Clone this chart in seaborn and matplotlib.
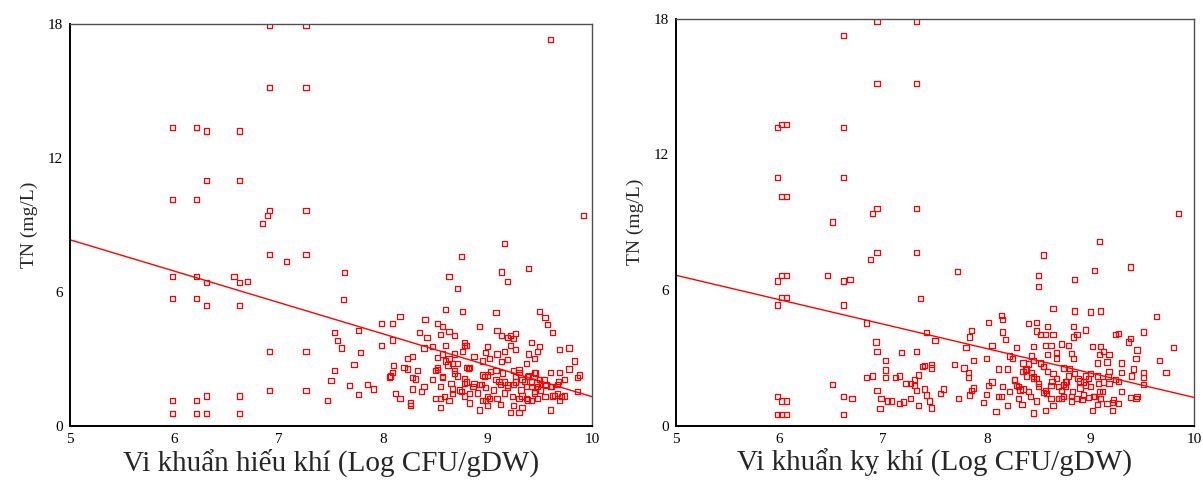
"""Scatter of TN vs. bacterial counts (aerobic / anaerobic) with linear trend."""

import matplotlib
import matplotlib.pyplot as plt
import seaborn as sns

sns.set_theme(style="white")
plt.rcParams["font.family"] = ["Liberation Serif", "DejaVu Serif"]

# ── Data ──────────────────────────────────────────────────────────────

# left panel: aerobic bacteria (Log CFU/gDW) vs TN (mg/L)
aer_log = (
    [5.98] * 6 + [6.21] * 6 + [6.31] * 6 + [6.62] * 6
    + [6.57, 6.70, 6.84, 6.89, 7.07]
    + [6.91] * 6 + [7.26] * 6
    + [7.47, 7.50, 7.53, 7.53, 7.56, 7.60, 7.62, 7.63, 7.68, 7.72]
    + [7.76, 7.76, 7.78, 7.85, 7.91, 7.98, 7.98, 8.06, 8.07, 8.09]
    + [8.09, 8.09, 8.10, 8.12, 8.16, 8.16, 8.20, 8.23, 8.23, 8.26]
    + [8.26, 8.28, 8.28, 8.28, 8.31, 8.33, 8.35, 8.37, 8.39, 8.39]
    + [8.40, 8.42, 8.47, 8.47, 8.50, 8.50, 8.52, 8.52, 8.52, 8.55]
    + [8.55, 8.55, 8.55, 8.57, 8.57, 8.57, 8.60, 8.60, 8.60, 8.63]
    + [8.63, 8.63, 8.63, 8.66, 8.66, 8.66, 8.68, 8.68, 8.68, 8.71]
    + [8.71, 8.71, 8.75, 8.75, 8.76, 8.76, 8.78, 8.78, 8.78, 8.78]
    + [8.80, 8.80, 8.80, 8.83, 8.83, 8.83, 8.87, 8.87, 8.92, 8.92]
    + [8.92, 8.95, 8.95, 8.95, 8.98, 8.98, 8.98, 9.00, 9.00, 9.00]
    + [9.02, 9.02, 9.08, 9.08, 9.08, 9.09, 9.09, 9.09, 9.12, 9.12]
    + [9.13, 9.13, 9.13, 9.16, 9.16, 9.16, 9.19, 9.19, 9.19, 9.19]
    + [9.22, 9.22, 9.22, 9.25, 9.25, 9.25, 9.25, 9.27, 9.27, 9.27]
    + [9.30, 9.30, 9.30, 9.33, 9.33, 9.33, 9.37, 9.37, 9.37, 9.39]
    + [9.39, 9.39, 9.42, 9.42, 9.42, 9.45, 9.45, 9.45, 9.48, 9.48]
    + [9.48, 9.50, 9.50, 9.50, 9.55, 9.55, 9.55, 9.57, 9.60, 9.60]
    + [9.60, 9.60, 9.62, 9.62, 9.67, 9.67, 9.69, 9.69, 9.69, 9.74]
    + [9.74, 9.78, 9.78, 9.83, 9.86, 9.86, 9.88, 9.92]
    + [8.94, 9.00, 9.06, 9.11, 9.16, 9.19, 9.24, 9.27, 9.32, 9.35]
    + [9.38, 9.42, 9.45, 9.47, 9.51, 9.56, 9.61, 9.64, 9.68, 9.71]
    + [8.90, 8.97, 9.03, 9.14, 9.30, 9.38, 9.46, 9.54]
    + [8.52, 8.57, 8.62, 8.65, 8.68, 8.73, 8.78, 8.82, 8.86, 8.59]
)
aer_tn = (
    [13.35, 10.15, 6.68, 5.70, 1.12, 0.54] * 2
    + [13.20, 10.99, 6.41, 5.37, 1.33, 0.54] * 2
    + [6.68, 6.47, 9.06, 9.42, 7.35]
    + [17.92, 15.14, 9.63, 7.68, 3.32, 1.58] * 2
    + [1.12, 2.02, 4.17, 2.48, 3.80, 3.48, 5.64, 6.85, 1.79, 2.74]
    + [4.28, 1.38, 3.27, 1.85, 1.64, 4.59, 3.59, 2.18, 2.23, 4.59]
    + [3.84, 2.38, 2.69, 1.43, 4.90, 1.23, 2.59, 3.00, 2.54, 1.02]
    + [0.91, 3.11, 2.17, 1.64, 2.09, 2.48, 4.17, 1.54, 3.48, 1.75]
    + [4.74, 3.95, 3.53, 2.06, 1.23, 2.48, 4.59, 2.59, 3.06, 4.10]
    + [1.23, 1.75, 0.81, 4.44, 2.17, 3.21, 5.22, 3.59, 2.90, 6.68]
    + [4.23, 3.00, 1.12, 2.80, 1.64, 1.43, 4.05, 3.21, 2.48, 6.16]
    + [2.80, 2.23, 7.58, 1.54, 5.11, 3.32, 3.74, 3.59, 1.90, 1.33]
    + [3.59, 2.59, 1.96, 2.59, 1.02, 1.43, 3.11, 1.90, 4.44, 1.85]
    + [0.70, 2.90, 2.27, 1.12, 3.27, 1.12, 1.70, 3.53, 2.27, 0.91]
    + [3.00, 1.23, 5.07, 2.48, 2.06, 4.28, 3.21, 1.23, 1.85, 0.96]
    + [6.89, 4.05, 2.86, 8.15, 3.32, 1.96, 6.47, 3.95, 2.96, 1.70]
    + [4.05, 0.60, 3.60, 3.89, 2.48, 0.91, 1.85, 4.13, 3.42, 1.96]
    + [1.23, 0.60, 2.38, 2.06, 0.81, 1.33, 2.80, 1.75, 1.23, 7.06]
    + [3.21, 2.23, 3.74, 1.96, 1.12, 3.00, 2.38, 1.54, 3.32, 1.75]
    + [1.23, 5.11, 3.53, 2.06, 4.86, 1.85, 1.30, 4.54, 17.29, 2.38]
    + [0.70, 1.75, 4.17, 1.33, 1.85, 1.43, 3.42, 2.38, 1.12, 2.06]
    + [1.33, 3.48, 2.54, 2.90, 2.17, 1.54, 2.27, 9.42]
    + [1.83, 1.30, 1.60, 1.97, 1.46, 1.82, 1.30, 2.20, 1.60, 1.97]
    + [1.15, 1.75, 1.46, 1.91, 1.60, 1.82, 1.75, 1.37, 1.97, 1.30]
    + [1.46, 2.20, 2.42, 2.36, 2.50, 2.20, 2.36, 2.05]
    + [2.50, 2.20, 2.72, 1.90, 2.35, 1.60, 2.12, 2.57, 1.75, 1.30]
)

# right panel: anaerobic bacteria (Log CFU/gDW) vs TN (mg/L)
ana_log = (
    [5.98] * 6 + [6.02] * 6 + [6.07] * 6 + [6.62] * 7
    + [6.46, 6.51, 6.51, 6.68, 6.70, 6.84, 6.84, 6.88, 6.90, 6.90]
    + [6.94] * 6 + [7.32] * 6
    + [6.93, 6.97, 6.98, 7.02, 7.02, 7.02, 7.04, 7.08, 7.12, 7.16]
    + [7.16, 7.18, 7.20, 7.22, 7.26, 7.26, 7.30, 7.30, 7.34, 7.34]
    + [7.36, 7.38, 7.40, 7.40, 7.42, 7.42, 7.45, 7.47, 7.47, 7.47]
    + [7.50, 7.55, 7.58, 7.69, 7.72, 7.73, 7.78, 7.80, 7.82, 7.82]
    + [7.83, 7.83, 7.85, 7.85, 7.87, 7.87, 7.97, 8.00, 8.00, 8.02]
    + [8.02, 8.05, 8.05, 8.09, 8.11, 8.11, 8.14, 8.14, 8.15, 8.15]
    + [8.15, 8.18, 8.20, 8.20, 8.22, 8.22, 8.25, 8.27, 8.29, 8.29]
    + [8.31, 8.31, 8.35, 8.35, 8.35, 8.38, 8.38, 8.40, 8.40, 8.40]
    + [8.43, 8.43, 8.45, 8.45, 8.45, 8.45, 8.48, 8.48, 8.48, 8.48]
    + [8.50, 8.50, 8.50, 8.52, 8.52, 8.55, 8.55, 8.55, 8.57, 8.57]
    + [8.57, 8.57, 8.59, 8.59, 8.59, 8.62, 8.62, 8.62, 8.64, 8.64]
    + [8.64, 8.67, 8.67, 8.67, 8.69, 8.72, 8.72, 8.72, 8.74, 8.74]
    + [8.76, 8.76, 8.79, 8.79, 8.82, 8.82, 8.82, 8.84, 8.84, 8.84]
    + [8.85, 8.85, 8.85, 8.87, 8.87, 8.90, 8.90, 8.93, 8.93, 8.95]
    + [8.95, 8.98, 8.98, 9.00, 9.00, 9.02, 9.02, 9.04, 9.04, 9.07]
    + [9.07, 9.07, 9.09, 9.09, 9.09, 9.10, 9.10, 9.10, 9.13, 9.13]
    + [9.16, 9.16, 9.18, 9.18, 9.18, 9.21, 9.21, 9.24, 9.24, 9.27]
    + [9.27, 9.30, 9.30, 9.30, 9.37, 9.39, 9.39, 9.39, 9.40, 9.42]
    + [9.44, 9.44, 9.45, 9.45, 9.51, 9.51, 9.51, 9.51, 9.64, 9.67]
    + [9.73, 9.80, 9.85]
    + [8.64, 8.69, 8.74, 8.77, 8.80, 8.83, 8.88, 8.92, 8.95, 9.00]
    + [9.03, 9.08, 9.12, 9.17, 9.22, 9.27]
    + [8.27, 8.32, 8.37, 8.42, 8.45, 8.50, 8.55, 8.58, 8.63, 8.34]
)
ana_tn = (
    [13.17, 10.96, 6.40, 5.34, 1.30, 0.50]
    + [13.33, 10.13, 6.65, 5.66, 1.09, 0.50] * 2
    + [17.27, 13.17, 10.96, 6.40, 5.34, 1.30, 0.50]
    + [6.65, 9.01, 1.83, 6.45, 1.19, 4.54, 2.14, 7.35, 2.20, 9.38]
    + [17.89, 15.12, 9.59, 7.65, 3.29, 1.56] * 2
    + [3.70, 0.77, 1.19, 2.88, 2.46, 2.14, 1.09, 1.09, 2.14, 2.20]
    + [0.99, 3.24, 1.05, 1.87, 1.19, 1.87, 2.04, 1.77, 2.24, 0.88]
    + [5.62, 2.61, 2.65, 1.62, 4.11, 1.36, 1.09, 0.78, 2.71, 2.55]
    + [3.76, 1.42, 1.62, 2.71, 6.81, 1.19, 2.55, 3.45, 2.35, 2.14]
    + [3.92, 1.36, 4.22, 1.56, 2.88, 1.67, 1.03, 2.98, 1.39, 4.56]
    + [1.77, 3.55, 1.93, 0.62, 2.51, 1.30, 4.87, 1.30, 4.71, 4.14]
    + [1.73, 3.81, 2.51, 0.88, 3.08, 1.50, 2.98, 2.04, 3.45, 1.77]
    + [1.19, 1.73, 2.77, 2.40, 1.62, 2.51, 2.20, 4.53, 2.73, 1.50]
    + [3.08, 2.35, 3.50, 2.88, 2.09, 0.56, 4.56, 4.19, 2.09, 1.09]
    + [6.65, 6.14, 1.87, 4.03, 2.77, 7.55, 2.61, 1.46, 4.03, 3.55]
    + [1.56, 0.66, 4.40, 3.14, 2.40, 3.55, 1.77, 1.19, 5.18, 4.03]
    + [0.88, 3.24, 2.98, 2.09, 1.19, 3.61, 1.56, 1.19, 2.55, 1.83]
    + [1.93, 1.73, 3.55, 2.20, 3.19, 1.30, 1.09, 4.40, 3.92, 2.98]
    + [6.45, 5.07, 2.30, 1.19, 4.03, 1.98, 1.67, 1.93, 1.36, 4.23]
    + [2.20, 2.09, 1.25, 5.03, 1.73, 3.50, 0.66, 6.87, 1.30, 2.77]
    + [2.20, 0.93, 8.13, 3.14, 1.50, 5.07, 3.50, 1.19, 3.29, 1.93]
    + [2.82, 0.99, 3.14, 2.40, 1.87, 0.66, 1.03, 4.03, 2.04, 4.07]
    + [0.99, 2.77, 1.52, 2.35, 3.70, 7.02, 3.86, 1.24, 2.20, 2.51]
    + [2.98, 1.19, 3.35, 1.30, 4.14, 2.35, 1.83, 2.14, 4.82, 2.88]
    + [2.35, 3.45, 9.38]
    + [2.32, 1.73, 1.28, 1.95, 2.54, 1.50, 2.10, 1.14, 1.80, 2.32]
    + [1.28, 1.88, 1.50, 2.17, 1.14, 1.95]
    + [2.02, 1.58, 2.46, 1.28, 2.17, 1.73, 2.61, 1.43, 1.95, 0.92]
)

# linear trend lines, end points read at x = 5 and x = 10
trend_x = [5, 10]
aer_trend = [8.33, 1.30]
ana_trend = [6.65, 1.25]

x_ticks = [5, 6, 7, 8, 9, 10]
y_ticks = [0, 6, 12, 18]

RED = "#ff0000"


def draw_panel(ax, xs, ys, trend, xlabel):
    sns.scatterplot(
        x=xs, y=ys, ax=ax, marker="s", s=14,
        facecolor="none", edgecolor=RED, linewidth=0.9,
    )
    sns.lineplot(x=trend_x, y=trend, ax=ax, color=RED, lw=1.0)
    ax.set_xlim(5, 10)
    ax.set_ylim(0, 18)
    ax.set_xticks(x_ticks)
    ax.set_yticks(y_ticks)
    ax.tick_params(axis="both", direction="out", length=3, width=0.8,
                   labelsize=11, pad=2, colors="black")
    ax.set_xlabel(xlabel, fontsize=21, labelpad=2)
    ax.set_ylabel("TN (mg/L)", fontsize=14, labelpad=7)
    for side in ["left", "bottom"]:
        ax.spines[side].set_color("black")
        ax.spines[side].set_linewidth(1.4)
    for side in ["top", "right"]:
        ax.spines[side].set_color("#505050")
        ax.spines[side].set_linewidth(1.0)


fig = plt.figure(figsize=(12.03, 4.84), dpi=100)
ax1 = fig.add_axes([0.0582, 0.1205, 0.4339, 0.830])
ax2 = fig.add_axes([0.5619, 0.1205, 0.4306, 0.841])

draw_panel(ax1, aer_log, aer_tn, aer_trend, "Vi khuẩn hiếu khí (Log CFU/gDW)")
draw_panel(ax2, ana_log, ana_tn, ana_trend, "Vi khuẩn kỵ khí (Log CFU/gDW)")

fig.savefig("out.png", dpi=100)
plt.close(fig)
